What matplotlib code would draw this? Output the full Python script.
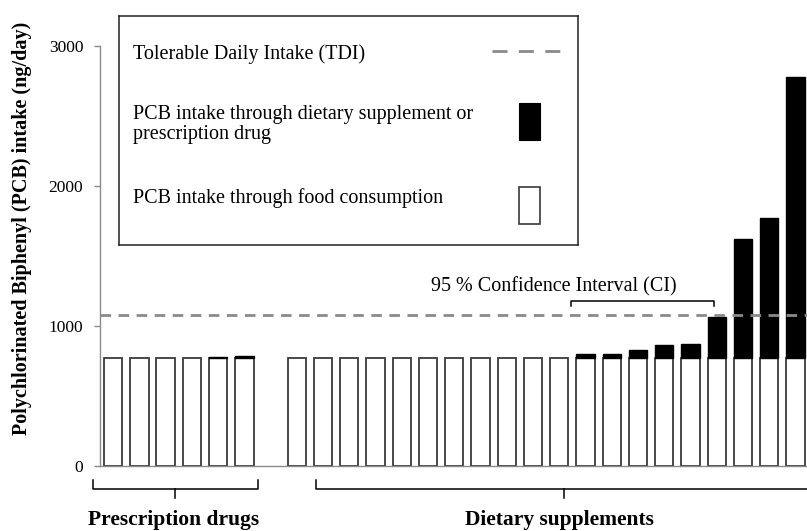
import matplotlib
matplotlib.use("Agg")
import matplotlib.pyplot as plt
from matplotlib.patches import Rectangle

plt.rcParams["font.family"] = ["Liberation Serif", "DejaVu Serif"]

# values (ng/day)
rx_pos = [0, 1, 2, 3, 4, 5]
rx_food = [769, 769, 769, 769, 769, 769]
rx_extra = [0, 0, 0, 0, 12, 19]

ds_pos = [7, 8, 9, 10, 11, 12, 13, 14, 15, 16, 17, 18, 19, 20, 21, 22, 23, 24, 25, 26]
ds_food = [769, 769, 769, 769, 769, 769, 769, 769, 769, 769,
           769, 769, 769, 769, 769, 769, 769, 769, 769, 769]
ds_extra = [0, 0, 0, 0, 0, 0, 0, 0, 0, 0,
            0, 29, 33, 60, 97, 102, 293, 852, 1005, 2007]

tdi = 1080
yticks = [0, 1000, 2000, 3000]

grey = "#8a8a8a"
edge = "#3a3a3a"

fig = plt.figure(figsize=(8.07, 5.31), dpi=100)
ax = fig.add_axes([100 / 807, 65 / 531, 707 / 807, 420 / 531])

for pos, food, extra in [(rx_pos, rx_food, rx_extra), (ds_pos, ds_food, ds_extra)]:
    ax.bar(pos, food, width=0.7, color="white", edgecolor=edge, linewidth=1.3, zorder=2)
    ax.bar(pos, extra, bottom=food, width=0.7, color="black", edgecolor="black",
           linewidth=[1.0 if e > 0 else 0 for e in extra], zorder=3)

ax.axhline(tdi, color=grey, linewidth=2, dashes=(3.8, 2.7), zorder=4)

ax.set_xlim(-0.5, 26.44)
ax.set_ylim(0, 3000)
ax.set_yticks(yticks)
ax.set_xticks([])
ax.tick_params(axis="y", direction="out", length=4, width=1, color=grey, pad=8, labelsize=12.5)
for s in ["top", "right"]:
    ax.spines[s].set_visible(False)
for s in ["left", "bottom"]:
    ax.spines[s].set_color(grey)
    ax.spines[s].set_linewidth(1)

# confidence interval bracket
ax.plot([17.45, 17.45, 22.9, 22.9], [1145, 1180, 1180, 1145], color="black", lw=1.1, zorder=4)
ax.text(16.8, 1250, "95 % Confidence Interval (CI)", ha="center", va="baseline", fontsize=14.5)

# group brackets under the axis
ax.plot([-0.76, -0.76, 5.52, 5.52], [-100, -164, -164, -100], color="black", lw=1.1, clip_on=False)
ax.plot([2.36, 2.36], [-164, -229], color="black", lw=1.1, clip_on=False)
ax.plot([7.73, 7.73, 26.65], [-100, -164, -164], color="black", lw=1.1, clip_on=False)
ax.plot([17.19, 17.19], [-164, -229], color="black", lw=1.1, clip_on=False)
ax.text(2.3, -421, "Prescription drugs", ha="center", va="baseline", fontsize=15.5, fontweight="bold")
ax.text(17.0, -421, "Dietary supplements", ha="center", va="baseline", fontsize=15.5, fontweight="bold")

fig.text(22 / 807, 1 - 228 / 531, "Polychlorinated Biphenyl (PCB) intake (ng/day)",
         rotation=90, ha="center", va="center", fontsize=14.5, fontweight="bold")

# legend box drawn in pixel units
leg = fig.add_axes([119 / 807, 1 - 245 / 531, 459 / 807, 229 / 531])
leg.set_xlim(119, 578)
leg.set_ylim(245, 16)
leg.set_xticks([])
leg.set_yticks([])
for s in leg.spines.values():
    s.set_color("#222222")
    s.set_linewidth(1.1)

leg.text(133, 59, "Tolerable Daily Intake (TDI)", va="baseline", fontsize=14.5)
leg.plot([492, 560], [51, 51], color=grey, linewidth=2, dashes=(5.4, 4.1))
leg.text(133, 139, "PCB intake through dietary supplement or\nprescription drug",
         va="baseline", fontsize=14.5, linespacing=1.05)
leg.add_patch(Rectangle((519, 103), 21, 37, facecolor="black", edgecolor="black", lw=0.8))
leg.text(133, 203, "PCB intake through food consumption", va="baseline", fontsize=14.5)
leg.add_patch(Rectangle((518.5, 187), 21, 37, facecolor="white", edgecolor=edge, lw=1.2))

fig.savefig("out.png", dpi=100)
